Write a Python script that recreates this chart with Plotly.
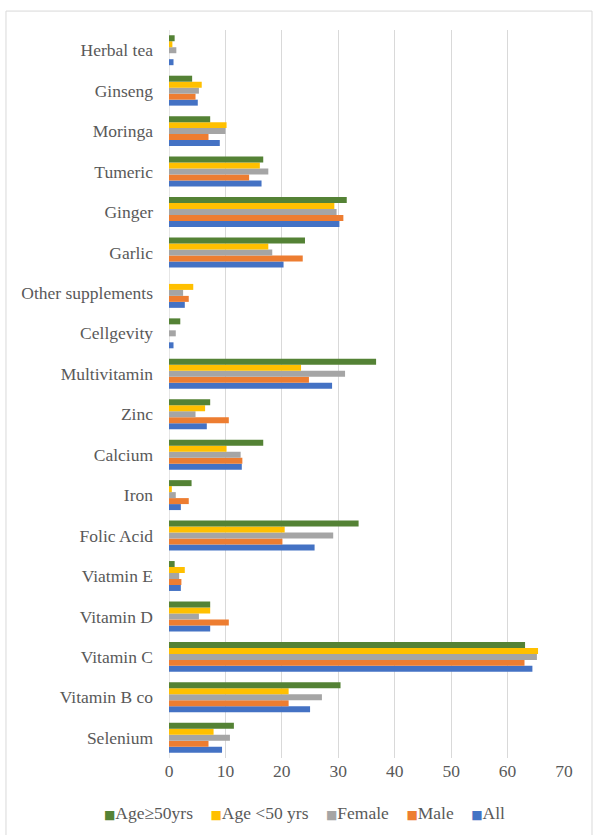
import plotly.graph_objects as go

# Supplement categories, bottom to top on the y axis
categories = [
    "Selenium", "Vitamin B co", "Vitamin C", "Vitamin D", "Viatmin E",
    "Folic Acid", "Iron", "Calcium", "Zinc", "Multivitamin", "Cellgevity",
    "Other supplements", "Garlic", "Ginger", "Tumeric", "Moringa",
    "Ginseng", "Herbal tea",
]

# Percentage of respondents using each supplement, per group
all_resp = [9.4, 25.0, 64.4, 7.3, 2.1, 25.8, 2.1, 12.9, 6.7, 28.9, 0.8,
            2.8, 20.3, 30.2, 16.4, 9.0, 5.1, 0.8]
male = [7.0, 21.2, 63.0, 10.6, 2.2, 20.1, 3.5, 13.0, 10.6, 24.8, 0.0,
        3.5, 23.7, 30.9, 14.2, 7.0, 4.7, 0.0]
female = [10.8, 27.1, 65.2, 5.3, 1.8, 29.1, 1.2, 12.7, 4.7, 31.2, 1.2,
          2.5, 18.3, 29.7, 17.6, 10.0, 5.3, 1.3]
age_under_50 = [7.9, 21.2, 65.4, 7.3, 2.8, 20.5, 0.5, 10.2, 6.4, 23.4, 0.0,
                4.3, 17.6, 29.3, 16.1, 10.2, 5.8, 0.6]
age_50_plus = [11.5, 30.4, 63.1, 7.3, 1.0, 33.6, 4.0, 16.7, 7.3, 36.7, 2.0,
               0.0, 24.1, 31.5, 16.7, 7.3, 4.1, 1.0]

x_ticks = [0, 10, 20, 30, 40, 50, 60, 70]

series = [
    ("All", all_resp, "#4472C4"),
    ("Male", male, "#ED7D31"),
    ("Female", female, "#A5A5A5"),
    ("Age <50 yrs", age_under_50, "#FFC000"),
    ("Age\u226550yrs", age_50_plus, "#548235"),
]

fig = go.Figure()
for name, values, color in series:
    fig.add_trace(go.Bar(
        y=categories, x=values, name=name, orientation="h",
        marker=dict(color=color, line=dict(width=0)),
        showlegend=False,
    ))

text_color = "#595959"
serif = "Liberation Serif"
font_size = 17.5

# Compact single-row key: small coloured square followed by the series name
key_gap = "&nbsp;" * 4
key_text = key_gap.join(
    f'<span style="color:{color};font-size:12px;font-family:DejaVu Sans">\u25A0</span>{name}'
    for name, _, color in reversed(series)
)

fig.update_layout(
    width=597, height=835,
    margin=dict(l=169, r=33, t=30, b=77),
    paper_bgcolor="white", plot_bgcolor="white",
    barmode="group", bargap=0.26, bargroupgap=0,
    font=dict(family=serif, size=font_size, color=text_color),
    showlegend=False,
    xaxis=dict(
        range=[0, 70], tickvals=x_ticks, ticktext=[str(t) for t in x_ticks],
        showgrid=True, gridcolor="#D9D9D9", gridwidth=1.3,
        zeroline=False, showline=False, ticks="",
        tickfont=dict(family=serif, size=font_size, color=text_color),
    ),
    yaxis=dict(
        categoryorder="array", categoryarray=categories,
        showgrid=False, zeroline=False, showline=False, ticks="",
        ticklabelstandoff=15,
        tickfont=dict(family=serif, size=font_size, color=text_color),
    ),
    annotations=[
        dict(text=key_text, xref="paper", yref="paper",
             x=(304.5 - 169) / 395, y=(758 - 813) / 728,
             xanchor="center", yanchor="middle", showarrow=False,
             font=dict(family=serif, size=font_size, color=text_color)),
    ],
    shapes=[
        dict(type="line", xref="x", yref="paper", x0=0, x1=0, y0=0, y1=1,
             line=dict(color="#D9D9D9", width=1.3), layer="below"),
        dict(type="rect", xref="paper", yref="paper",
             x0=-0.4127, x1=1.0709, y0=-0.115, y1=1.026,
             line=dict(color="#D9D9D9", width=1), layer="below"),
    ],
)

fig.write_html("out.html")
